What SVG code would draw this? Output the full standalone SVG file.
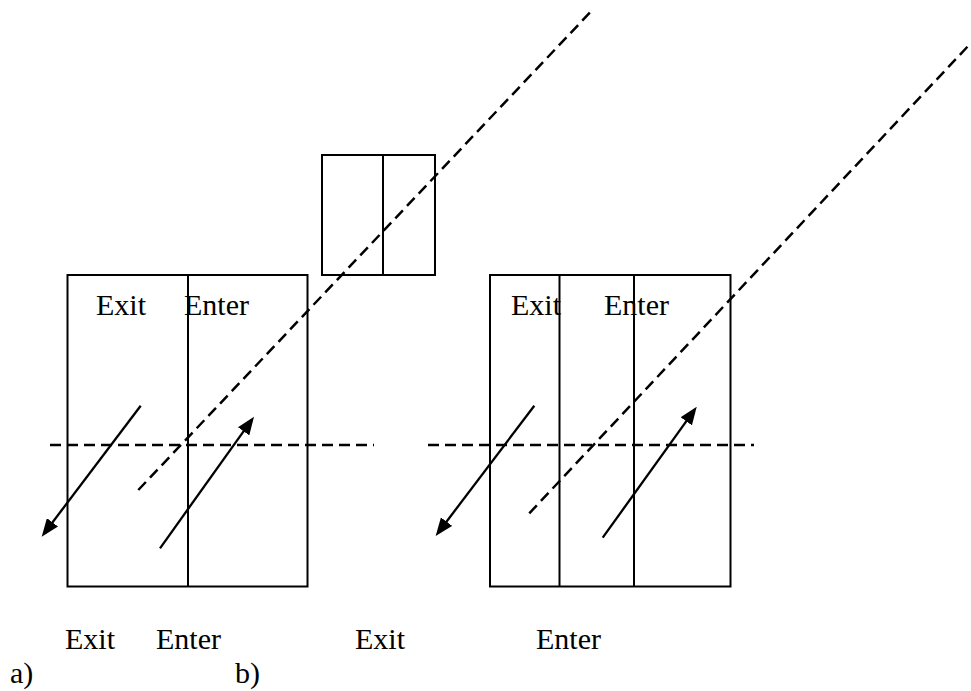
<svg xmlns="http://www.w3.org/2000/svg" width="971" height="691" viewBox="0 0 971 691">
<style>
.box{fill:none;stroke:#000;stroke-width:2}
.div{stroke:#000;stroke-width:2}
.dash{stroke:#000;stroke-width:2.5;stroke-dasharray:11 6;fill:none}
.arr{stroke:#000;stroke-width:2.3;fill:none;marker-end:url(#ah)}
.t{font-family:"Liberation Serif","Times New Roman",serif;font-size:30px;fill:#000}
</style>
<defs>
<marker id="ah" markerUnits="userSpaceOnUse" markerWidth="18" markerHeight="14" viewBox="0 0 18 14" refX="8" refY="7" orient="auto">
<path d="M0,0 L18,7 L0,14 z" fill="#000"/>
</marker>
</defs>
<rect width="971" height="691" fill="#fff"/>
<g id="small-box">
<rect class="box" x="322" y="155" width="113" height="120"/>
<line class="div" x1="383" y1="155" x2="383" y2="275"/>
</g>
<g id="box-a">
<rect class="box" x="67.5" y="275" width="240" height="311.5"/>
<line class="div" x1="188" y1="275" x2="188" y2="586.5"/>
<text class="t" font-family="Liberation Serif, Times New Roman, serif" x="96" y="315">Exit</text>
<text class="t" font-family="Liberation Serif, Times New Roman, serif" x="184" y="315">Enter</text>
</g>
<g id="box-b">
<rect class="box" x="490" y="275" width="240.5" height="311.5"/>
<line class="div" x1="559.5" y1="275" x2="559.5" y2="586.5"/>
<line class="div" x1="634" y1="275" x2="634" y2="586.5"/>
<text class="t" font-family="Liberation Serif, Times New Roman, serif" x="511" y="315">Exit</text>
<text class="t" font-family="Liberation Serif, Times New Roman, serif" x="604" y="315">Enter</text>
</g>
<g id="connectors">
<line class="dash" x1="50" y1="445" x2="374" y2="445"/>
<line class="dash" x1="428" y1="445" x2="754" y2="445"/>
<line class="dash" x1="138.3" y1="490" x2="590" y2="12.5"/>
<line class="dash" x1="529.3" y1="513.3" x2="970" y2="44"/>
<line class="arr" x1="140.7" y1="405.7" x2="47.7" y2="528.7"/>
<line class="arr" x1="160" y1="548.3" x2="248.2" y2="424.8"/>
<line class="arr" x1="534.3" y1="405.7" x2="441.7" y2="528"/>
<line class="arr" x1="602.7" y1="537.7" x2="690.9" y2="414.8"/>
</g>
<g id="labels">
<text class="t" font-family="Liberation Serif, Times New Roman, serif" x="65" y="649">Exit</text>
<text class="t" font-family="Liberation Serif, Times New Roman, serif" x="156" y="649">Enter</text>
<text class="t" font-family="Liberation Serif, Times New Roman, serif" x="355" y="649">Exit</text>
<text class="t" font-family="Liberation Serif, Times New Roman, serif" x="536" y="649">Enter</text>
<text class="t" font-family="Liberation Serif, Times New Roman, serif" x="10" y="683">a)</text>
<text class="t" font-family="Liberation Serif, Times New Roman, serif" x="235" y="683">b)</text>
</g>
</svg>
